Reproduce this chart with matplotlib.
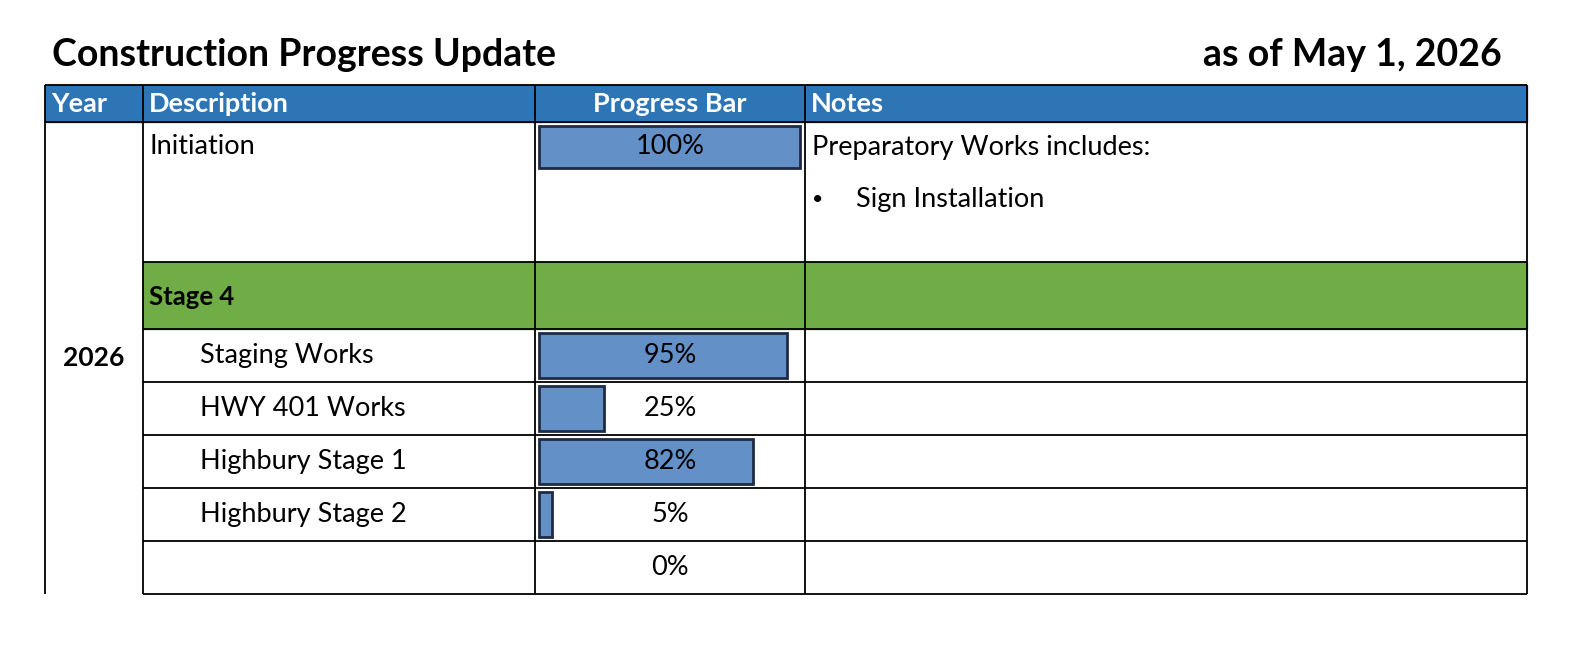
import matplotlib
matplotlib.use('Agg')
import matplotlib.pyplot as plt
from matplotlib.patches import Rectangle

plt.rcParams['font.family'] = ['Lato', 'DejaVu Sans']

title = 'Construction Progress Update'
as_of = 'as of May 1, 2026'
headers = ['Year', 'Description', 'Progress Bar', 'Notes']
year_label = '2026'
task_names = ['Staging Works', 'HWY 401 Works', 'Highbury Stage 1', 'Highbury Stage 2', '']
task_progress = [95, 25, 82, 5, 0]
init_name = 'Initiation'
init_progress = 100
stage_name = 'Stage 4'
note_head = 'Preparatory Works includes:'
note_items = ['Sign Installation']

BLUE = '#2E75B6'
GREEN = '#70AD47'
BAR = '#6490C8'
EDGE = '#1F2A44'

fig = plt.figure(figsize=(15.87, 6.5), dpi=100)
ax = fig.add_axes([0, 0, 1, 1])
ax.set_xlim(0, 1587)
ax.set_ylim(650, 0)
ax.axis('off')

cols = [45, 143, 535, 805, 1527]
bar_x0, bar_full = 539, 261

def line(x0, x1, y0, y1, lw=1.3):
    ax.plot([x0, x1], [y0, y1], color='black', lw=lw, solid_capstyle='butt')

ax.text(52, 55, title, fontsize=27, fontweight='bold', va='center', ha='left')
ax.text(1502, 55, as_of, fontsize=27, fontweight='bold', va='center', ha='right')

# header
ax.add_patch(Rectangle((cols[0], 85), cols[-1] - cols[0], 37, color=BLUE, zorder=0))
for x in cols:
    line(x, x, 85, 122)
line(cols[0], cols[-1], 85, 85)
line(cols[0], cols[-1], 122, 122)
hx = [cols[0] + 6, cols[1] + 6, (cols[2] + cols[3]) / 2, cols[3] + 6]
for i, h in enumerate(headers):
    ax.text(hx[i], 104, h, color='white', fontsize=19.5, fontweight='bold', va='center',
            ha='center' if i == 2 else 'left')

def draw_bar(y_top, h, pct):
    w = bar_full * pct / 100
    if pct > 0:
        ax.add_patch(Rectangle((bar_x0, y_top + 4), w, h - 8, facecolor=BAR, edgecolor=EDGE, lw=2))
    ax.text(670, y_top + h / 2, f'{pct}%', fontsize=19.5, ha='center', va='center')

# initiation row
ax.text(cols[1] + 6, 147, init_name, fontsize=19.5, va='center')
draw_bar(122, 50, init_progress)
ax.text(cols[3] + 7, 147, note_head, fontsize=19.5, va='center')
for j, item in enumerate(note_items):
    ax.text(812, 200 + 52 * j, '•', fontsize=14, va='center')
    ax.text(856, 200 + 52 * j, item, fontsize=19.5, va='center')
line(cols[1], cols[-1], 262, 262)

# stage row
ax.add_patch(Rectangle((cols[1], 262), cols[-1] - cols[1], 67, color=GREEN, zorder=0))
ax.text(cols[1] + 6, 297, stage_name, fontsize=18.5, fontweight='bold', va='center')
line(cols[1], cols[-1], 329, 329)

y = 329
rh = 53
for name, p in zip(task_names, task_progress):
    ax.text(200, y + rh / 2, name, fontsize=19.5, va='center')
    draw_bar(y, rh, p)
    y += rh
    line(cols[1], cols[-1], y, y)

for x in cols[1:]:
    line(x, x, 122, y)
line(cols[0], cols[0], 122, y)
ax.text((cols[0] + cols[1]) / 2, 358, year_label, fontsize=19, fontweight='bold', ha='center', va='center')

fig.savefig('out.png', dpi=100)
